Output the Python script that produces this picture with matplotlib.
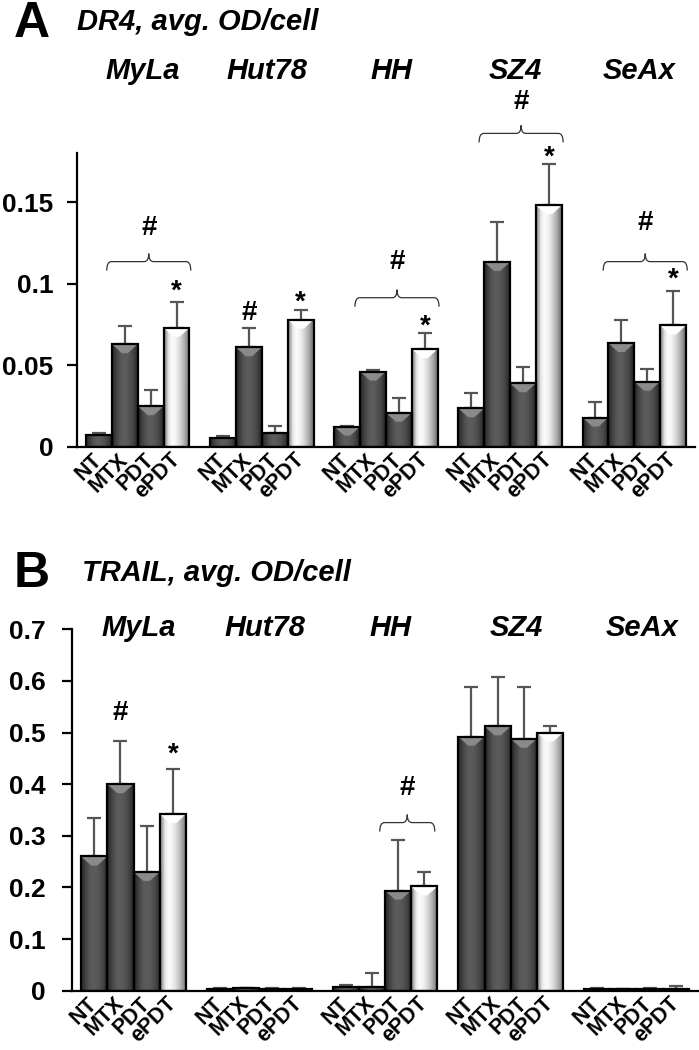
import numpy as np
import matplotlib
matplotlib.use("Agg")
import matplotlib.pyplot as plt
from matplotlib.path import Path
from matplotlib.patches import PathPatch, Polygon
from matplotlib.transforms import blended_transform_factory

plt.rcParams['font.family'] = ['Liberation Sans', 'DejaVu Sans']
plt.rcParams['font.weight'] = 'bold'

cell_lines = ['MyLa', 'Hut78', 'HH', 'SZ4', 'SeAx']
treatments = ['NT', 'MTX', 'PDT', 'ePDT']

# panel A: DR4
dr4_nt = [0.0074, 0.0055, 0.0125, 0.0237, 0.018]
dr4_mtx = [0.063, 0.061, 0.0462, 0.1133, 0.0636]
dr4_pdt = [0.025, 0.0086, 0.021, 0.039, 0.040]
dr4_epdt = [0.073, 0.078, 0.060, 0.148, 0.0744]
dr4_nt_err = [0.0014, 0.0013, 0.0005, 0.0093, 0.0094]
dr4_mtx_err = [0.011, 0.012, 0.0008, 0.0247, 0.0139]
dr4_pdt_err = [0.010, 0.004, 0.009, 0.0099, 0.008]
dr4_epdt_err = [0.0155, 0.0056, 0.0098, 0.025, 0.0213]

# panel B: TRAIL
trail_nt = [0.26, 0.004, 0.008, 0.492, 0.004]
trail_mtx = [0.40, 0.005, 0.007, 0.512, 0.003]
trail_pdt = [0.23, 0.004, 0.194, 0.488, 0.004]
trail_epdt = [0.342, 0.004, 0.202, 0.50, 0.004]
trail_nt_err = [0.075, 0.001, 0.003, 0.096, 0.001]
trail_mtx_err = [0.084, 0.001, 0.027, 0.095, 0.001]
trail_pdt_err = [0.089, 0.001, 0.098, 0.100, 0.001]
trail_epdt_err = [0.087, 0.001, 0.027, 0.012, 0.005]

# significance marks: (symbol, cell line index, treatment index, y)
dr4_marks = [('#', 1, 1, 0.082), ('*', 0, 3, 0.098), ('*', 1, 3, 0.0914),
             ('*', 2, 3, 0.0767), ('*', 3, 3, 0.180), ('*', 4, 3, 0.1055)]
# braces: (cell line index, brace y, '#' y)
dr4_braces = [(0, 0.1135, 0.134), (2, 0.0914, 0.1135), (3, 0.192, 0.211), (4, 0.1135, 0.137)]
trail_marks = [('#', 0, 1, 0.538), ('*', 0, 3, 0.467)]
trail_braces = [(2, 0.3256, 0.393)]

group_step = 4.8

dark_cols = ['#2e2e2e', '#444444', '#555555', '#5c5c5c', '#5a5a5a', '#525252', '#454545', '#2e2e2e']
light_cols = ['#9a9a9a', '#e6e6e6', '#fbfbfb', '#f4f4f4', '#e2e2e2', '#c8c8c8', '#a8a8a8', '#7c7c7c']


def to_rgb(cols):
    return np.array([[matplotlib.colors.to_rgb(c) for c in cols]])


def shade(ax, bars, cols, top_col, px2y):
    img = to_rgb(cols)
    for b in bars:
        x0, w, h = b.get_x(), b.get_width(), b.get_height()
        im = ax.imshow(img, extent=[x0, x0 + w, 0, h], aspect='auto',
                       interpolation='bilinear', zorder=2)
        im.set_clip_path(b)
        dh = 9 * px2y
        if h > dh * 1.6:
            bev = Polygon([(x0, h), (x0 + w, h), (x0 + w * 0.62, h - dh), (x0 + w * 0.38, h - dh)],
                          closed=True, facecolor=top_col, edgecolor='none', zorder=2.5)
            ax.add_patch(bev)
            bev.set_clip_path(b)


def brace(ax, x0, x1, y, px2y):
    d = 9 * px2y
    t = 8 * px2y
    r = 0.18
    xm = (x0 + x1) / 2
    verts = [(x0, y - d), (x0, y), (x0 + r, y), (xm - r, y), (xm, y), (xm, y + t),
             (xm, y), (xm + r, y), (x1 - r, y), (x1, y), (x1, y - d)]
    codes = [Path.MOVETO, Path.CURVE3, Path.CURVE3, Path.LINETO, Path.CURVE3, Path.CURVE3,
             Path.CURVE3, Path.CURVE3, Path.LINETO, Path.CURVE3, Path.CURVE3]
    ax.add_patch(PathPatch(Path(verts, codes), facecolor='none', edgecolor='#333333',
                           lw=0.9, clip_on=False, zorder=4))


def panel(ax, vals, errs, ylim, yticks, yticklabels, marks, braces, brace_span, pad):
    ax_h_px = ax.get_position().height * 1050
    px2y = (ylim[1] - ylim[0]) / ax_h_px
    xs_all = []
    for j, (v, e) in enumerate(zip(vals, errs)):
        xs = np.arange(len(cell_lines)) * group_step + j
        xs_all.append(xs)
        bars = ax.bar(xs, v, width=1.0, facecolor='none', edgecolor='black', lw=1.6, zorder=3)
        ax.errorbar(xs, v, yerr=[np.zeros(len(e)), e], fmt='none', ecolor='#555555',
                    elinewidth=1.6, capsize=5, capthick=1.6, zorder=1.5)
        if j == 3:
            shade(ax, bars, light_cols, '#ffffff', px2y)
        else:
            shade(ax, bars, dark_cols, '#8a8a8a', px2y)
    ax.set_xlim(-0.85, (len(cell_lines) - 1) * group_step + 3.85)
    ax.set_ylim(*ylim)
    ax.set_yticks(yticks)
    ax.set_yticklabels(yticklabels, fontsize=19, fontweight='bold')
    xt = np.sort(np.concatenate(xs_all))
    ax.set_xticks(xt)
    ax.set_xticklabels(treatments * len(cell_lines), rotation=45, ha='right', va='center',
                       rotation_mode='anchor', fontsize=15.5, fontweight='bold')
    ax.tick_params(axis='x', length=0, pad=7)
    ax.tick_params(axis='y', length=7, width=1.6, direction='out', pad=pad)
    for s in ['top', 'right']:
        ax.spines[s].set_visible(False)
    for s in ['left', 'bottom']:
        ax.spines[s].set_linewidth(1.6)
    for sym, g, t, y in marks:
        dy = -5 * px2y if sym == '*' else 0
        ax.text(g * group_step + t, y + dy, sym, ha='center', va='center', fontsize=20,
                fontweight='bold', clip_on=False, zorder=5)
    for g, yb, yh in braces:
        x0 = g * group_step + brace_span[0]
        x1 = g * group_step + brace_span[1]
        brace(ax, x0, x1, yb, px2y)
        ax.text((x0 + x1) / 2, yh, '#', ha='center', va='center', fontsize=20,
                fontweight='bold', clip_on=False, zorder=5)


fig = plt.figure(figsize=(6.99, 10.5), dpi=100)

axA = fig.add_axes([77 / 699, 1 - 447 / 1050, 618 / 699, 294 / 1050])
panel(axA, [dr4_nt, dr4_mtx, dr4_pdt, dr4_epdt],
      [dr4_nt_err, dr4_mtx_err, dr4_pdt_err, dr4_epdt_err],
      (0, 0.18), [0, 0.05, 0.1, 0.15], ['0', '0.05', '0.1', '0.15'],
      dr4_marks, dr4_braces, (0.3, 3.55), 10)

axB = fig.add_axes([72 / 699, 1 - 990.7 / 1050, 626 / 699, 361.4 / 1050])
panel(axB, [trail_nt, trail_mtx, trail_pdt, trail_epdt],
      [trail_nt_err, trail_mtx_err, trail_pdt_err, trail_epdt_err],
      (0, 0.7), np.arange(0, 0.71, 0.1), ['0', '0.1', '0.2', '0.3', '0.4', '0.5', '0.6', '0.7'],
      trail_marks, trail_braces, (1.3, 3.4), 12)

# panel letters, titles and cell line names
fig.text(14 / 699, 1 - 24 / 1050, 'A', fontsize=36, fontweight='bold', va='center', ha='left')
fig.text(77 / 699, 1 - 22 / 1050, 'DR4, avg. OD/cell', fontsize=21, fontweight='bold',
         style='italic', va='center', ha='left')
fig.text(14 / 699, 1 - 574 / 1050, 'B', fontsize=36, fontweight='bold', va='center', ha='left')
fig.text(82 / 699, 1 - 573 / 1050, 'TRAIL, avg. OD/cell', fontsize=21, fontweight='bold',
         style='italic', va='center', ha='left')

for ax, yname in [(axA, 1 - 71 / 1050), (axB, 1 - 628 / 1050)]:
    tr = blended_transform_factory(ax.transData, fig.transFigure)
    for i, name in enumerate(cell_lines):
        fig.text(i * group_step + 1.7, yname, name, transform=tr, fontsize=21,
                 fontweight='bold', style='italic', ha='center', va='center')

fig.savefig('out.png', dpi=100)
